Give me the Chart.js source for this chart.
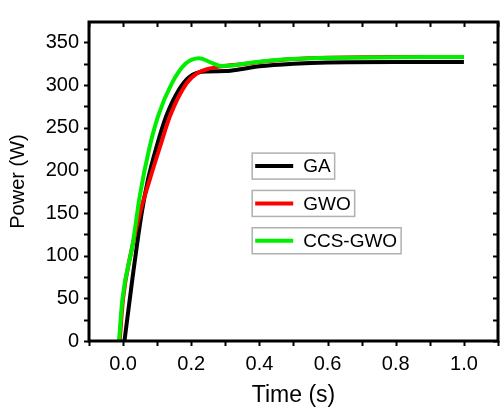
<!DOCTYPE html>
<html>
<head>
<meta charset="utf-8">
<script src="https://cdn.jsdelivr.net/npm/chart.js@4.4.1/dist/chart.umd.min.js"></script>
<style>
  html, body { margin: 0; padding: 0; background: #fff; }
  #wrap { width: 500px; height: 414px; }
</style>
</head>
<body>
<div id="wrap"><canvas id="chartCanvas" width="500" height="414"></canvas></div>
<script>
// ================= DATA =================
const seriesNames = ["GA", "GWO", "CCS-GWO"];
const seriesColors = ["#000000", "#ff0000", "#00ee00"];

const timeGA  = [0.004, 0.028, 0.055, 0.073, 0.097, 0.127, 0.163, 0.196, 0.238, 0.3, 0.35, 0.4, 0.5, 0.6, 0.8, 1.0];
const powerGA = [0, 75, 151, 189, 226, 264, 294, 310, 316, 316.5, 319, 322, 325, 326.5, 327, 327];

const timeGWO  = [-0.01, 0.0, 0.024, 0.05, 0.078, 0.107, 0.138, 0.186, 0.218, 0.249, 0.29, 0.35, 0.4, 0.5, 0.6, 0.8, 1.0];
const powerGWO = [0, 50, 105, 151, 189, 226, 264, 302, 314, 319, 322, 324.5, 327, 330.5, 332, 333, 333];

const timeCCS  = [-0.012, -0.002, 0.028, 0.049, 0.077, 0.103, 0.143, 0.183, 0.223, 0.255, 0.286, 0.32, 0.37, 0.45, 0.55, 0.7, 1.0];
const powerCCS = [0, 49, 113, 170, 226, 264, 302, 325, 331.5, 327, 322.5, 323, 326, 329.5, 331.5, 332.5, 333];

const xTicks = [0.0, 0.2, 0.4, 0.6, 0.8, 1.0];
const yTicks = [0, 50, 100, 150, 200, 250, 300, 350];

const xMinorStep = 0.1;
const yMinorStep = 25;

// ================= HELPERS =================
function pairs(xs, ys) {
    return xs.map((x, i) => ({ x: x, y: ys[i] }));
}

const FONT = "'Liberation Sans', Arial, sans-serif";

// frame + ticks on all four sides
const framePlugin = {
    id: "frame",
    afterDatasetsDraw(chart) {
        const ctx = chart.ctx;
        const a = chart.chartArea;
        const xs = chart.scales.x;
        const ys = chart.scales.y;
        const len = 5;

        ctx.save();
        ctx.strokeStyle = "#000";
        ctx.lineWidth = 2;

        // x ticks (bottom outward, top inward)
        for (let v = -0.1; v <= 1.1 + 1e-9; v += xMinorStep) {
            const px = Math.round(xs.getPixelForValue(v)) + 0.5;
            ctx.beginPath();
            ctx.moveTo(px, a.bottom);
            ctx.lineTo(px, a.bottom + len);
            ctx.moveTo(px, a.top);
            ctx.lineTo(px, a.top + len);
            ctx.stroke();
        }
        // y ticks (left outward, right inward)
        for (let v = 0; v <= ys.max + 1e-9; v += yMinorStep) {
            const py = Math.round(ys.getPixelForValue(v)) + 0.5;
            ctx.beginPath();
            ctx.moveTo(a.left, py);
            ctx.lineTo(a.left - len, py);
            ctx.moveTo(a.right, py);
            ctx.lineTo(a.right - len, py);
            ctx.stroke();
        }

        ctx.lineWidth = 3;
        ctx.strokeRect(a.left, a.top, a.right - a.left, a.bottom - a.top);
        ctx.restore();
    }
};

// separate boxed legend entries
const legendPlugin = {
    id: "boxLegend",
    afterDraw(chart) {
        const ctx = chart.ctx;
        const a = chart.chartArea;
        const w = a.right - a.left;
        const h = a.bottom - a.top;
        const tops = [0.411, 0.528, 0.645];

        ctx.save();
        ctx.font = "19px " + FONT;
        ctx.textBaseline = "middle";
        chart.data.datasets.forEach((ds, i) => {
            const bx = a.left + w * 0.399;
            const by = a.top + h * tops[i];
            const bh = 26;
            const tw = ctx.measureText(ds.label).width;
            const bw = 52 + tw + 3;

            ctx.fillStyle = "#fff";
            ctx.fillRect(bx, by, bw, bh);
            ctx.strokeStyle = "#b0b0b0";
            ctx.lineWidth = 1.5;
            ctx.strokeRect(bx, by, bw, bh);

            ctx.strokeStyle = ds.borderColor;
            ctx.lineWidth = 4;
            ctx.beginPath();
            ctx.moveTo(bx + 3, by + bh / 2);
            ctx.lineTo(bx + 41, by + bh / 2);
            ctx.stroke();

            ctx.fillStyle = "#000";
            ctx.fillText(ds.label, bx + 51, by + bh / 2 + 1);
        });
        ctx.restore();
    }
};

// ================= CHART =================
const chart = new Chart(document.getElementById("chartCanvas"), {
    type: "scatter",
    data: {
        datasets: [
            { label: seriesNames[0], data: pairs(timeGA, powerGA), borderColor: seriesColors[0], order: 3 },
            { label: seriesNames[1], data: pairs(timeGWO, powerGWO), borderColor: seriesColors[1], order: 2 },
            { label: seriesNames[2], data: pairs(timeCCS, powerCCS), borderColor: seriesColors[2], order: 1 }
        ].map(d => Object.assign(d, {
            showLine: true,
            borderWidth: 4,
            pointRadius: 0,
            cubicInterpolationMode: "monotone",
            fill: false
        }))
    },
    options: {
        responsive: false,
        animation: false,
        events: [],
        layout: { padding: { top: 9, right: 2, left: 0, bottom: 0 } },
        plugins: {
            legend: { display: false },
            tooltip: { enabled: false }
        },
        scales: {
            x: {
                type: "linear",
                min: -0.1,
                max: 1.1,
                afterBuildTicks: s => { s.ticks = xTicks.map(v => ({ value: v })); },
                afterFit: s => { s.height = 73; },
                grid: { display: false, drawTicks: false },
                border: { display: false },
                ticks: {
                    color: "#000",
                    padding: 11,
                    maxRotation: 0,
                    font: { family: FONT, size: 20 },
                    callback: v => v.toFixed(1)
                },
                title: {
                    display: true,
                    text: "Time (s)",
                    color: "#000",
                    padding: { top: 0, bottom: 5 },
                    font: { family: FONT, size: 23 }
                }
            },
            y: {
                min: 0,
                max: 374,
                afterBuildTicks: s => { s.ticks = yTicks.map(v => ({ value: v })); },
                afterFit: s => { s.width = 89; },
                grid: { display: false, drawTicks: false },
                border: { display: false },
                ticks: {
                    color: "#000",
                    padding: 10,
                    font: { family: FONT, size: 20 }
                },
                title: {
                    display: true,
                    text: "Power (W)",
                    color: "#000",
                    padding: { top: 6, bottom: 0 },
                    font: { family: FONT, size: 20 }
                }
            }
        }
    },
    plugins: [framePlugin, legendPlugin]
});
</script>
</body>
</html>
